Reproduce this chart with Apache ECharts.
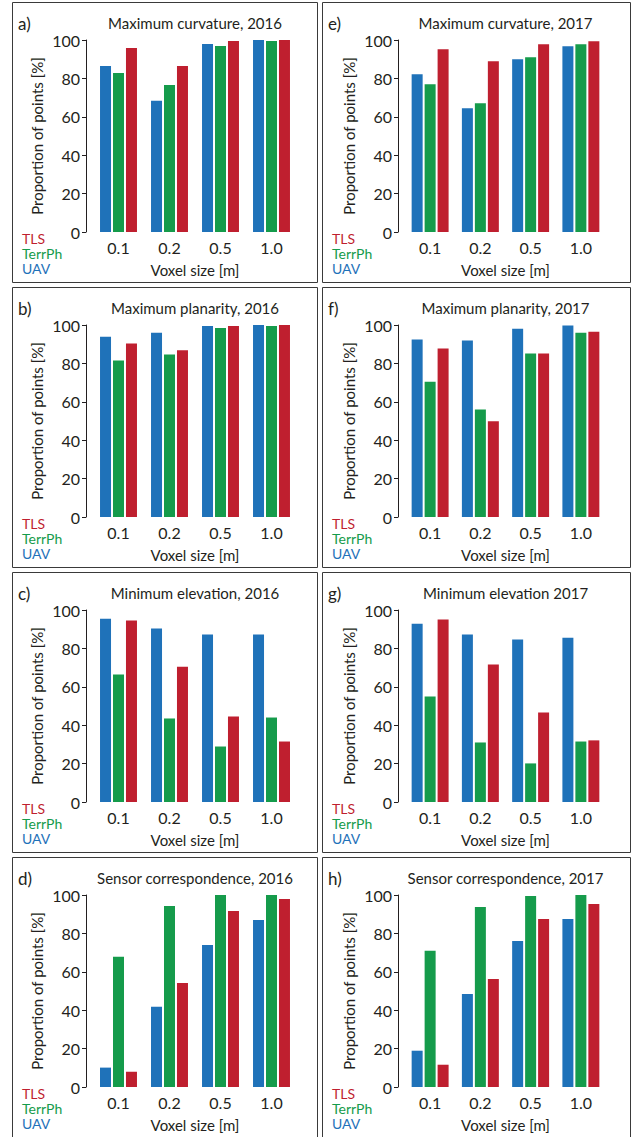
<!DOCTYPE html>
<html>
<head>
<meta charset="utf-8">
<script src="https://cdn.jsdelivr.net/npm/echarts@6/dist/echarts.min.js"></script>
<style>
html,body{margin:0;padding:0;background:#fff;}
#chart{width:635px;height:1137px;}
</style>
</head>
<body>
<div id="chart"></div>
<script>
// Categories (voxel size)
const voxelSizes = ['0.1', '0.2', '0.5', '1.0'];
const yTicks = [0, 20, 40, 60, 80, 100];
const sensors = ['UAV', 'TerrPh', 'TLS'];

// Panel titles and letters
const panelLetters = ['a)', 'b)', 'c)', 'd)', 'e)', 'f)', 'g)', 'h)'];
const panelTitles = [
  'Maximum curvature, 2016', 'Maximum planarity, 2016', 'Minimum elevation, 2016', 'Sensor correspondence, 2016',
  'Maximum curvature, 2017', 'Maximum planarity, 2017', 'Minimum elevation 2017', 'Sensor correspondence, 2017'
];

// a) Maximum curvature, 2016
const uavA = [86.5, 68.3, 97.9, 100];
const terrA = [82.8, 76.6, 96.9, 99.5];
const tlsA = [95.8, 86.5, 99.5, 100];
// b) Maximum planarity, 2016
const uavB = [93.9, 96.0, 99.5, 100];
const terrB = [81.5, 84.6, 98.4, 99.5];
const tlsB = [90.3, 86.8, 99.5, 100];
// c) Minimum elevation, 2016
const uavC = [95.5, 90.3, 87.2, 87.2];
const terrC = [66.4, 43.5, 28.9, 44.0];
const tlsC = [94.5, 70.5, 44.5, 31.5];
// d) Sensor correspondence, 2016
const uavD = [10.1, 41.8, 74.0, 87.0];
const terrD = [67.8, 94.3, 100, 100];
const tlsD = [8.0, 54.2, 91.7, 97.9];
// e) Maximum curvature, 2017
const uavE = [82.2, 64.4, 90.0, 96.7];
const terrE = [77.0, 67.1, 91.0, 97.8];
const tlsE = [95.2, 88.9, 97.8, 99.3];
// f) Maximum planarity, 2017
const uavF = [92.4, 91.9, 98.1, 99.7];
const terrF = [70.5, 56.0, 85.1, 96.0];
const tlsF = [87.7, 49.9, 85.1, 96.5];
// g) Minimum elevation 2017
const uavG = [92.9, 87.2, 84.6, 85.6];
const terrG = [54.9, 31.0, 20.1, 31.5];
const tlsG = [95.0, 71.6, 46.6, 32.1];
// h) Sensor correspondence, 2017
const uavH = [18.9, 48.5, 76.1, 87.5];
const terrH = [70.9, 93.8, 99.5, 100];
const tlsH = [11.6, 56.3, 87.5, 95.3];

const panelData = [
  [uavA, terrA, tlsA], [uavB, terrB, tlsB], [uavC, terrC, tlsC], [uavD, terrD, tlsD],
  [uavE, terrE, tlsE], [uavF, terrF, tlsF], [uavG, terrG, tlsG], [uavH, terrH, tlsH]
];

const COLORS = { UAV: '#1f72b9', TerrPh: '#159b4b', TLS: '#bf1f2f' };
const INK = '#231f20';
const FONT = 'Lato, "Open Sans", sans-serif';

// layout
const colFrameLeft = [12, 322];
const colFrameWidth = [305, 308];
const colPlotLeft = [93, 405];
const colPlotWidth = [204, 201];
const rowPlotTop = [40, 325, 610, 895];
const plotHeight = 192;

const grids = [], xAxes = [], yAxes = [], series = [], legends = [], graphics = [];

for (let p = 0; p < 8; p++) {
  const col = Math.floor(p / 4), row = p % 4;
  const top = rowPlotTop[row];
  const fl = colFrameLeft[col];
  const pl = colPlotLeft[col], pw = colPlotWidth[col];

  grids.push({ left: pl, top: top, width: pw, height: plotHeight, containLabel: false });

  xAxes.push({
    type: 'category', gridIndex: p, data: voxelSizes,
    axisLine: { show: false }, axisTick: { show: false },
    axisLabel: { color: INK, fontSize: 16, fontFamily: FONT, margin: 7 },
    name: 'Voxel size [m]', nameLocation: 'middle', nameGap: 30,
    nameTextStyle: { color: INK, fontSize: 15, fontFamily: FONT }
  });

  yAxes.push({
    type: 'value', gridIndex: p, min: 0, max: 100, interval: 20,
    offset: 7,
    axisLine: { show: true, lineStyle: { color: INK, width: 1 } },
    axisTick: { show: true, length: 4, inside: false, lineStyle: { color: INK, width: 1 } },
    splitLine: { show: false },
    axisLabel: { color: INK, fontSize: 16, fontFamily: FONT, margin: 6 },
    name: 'Proportion of points [%]', nameLocation: 'middle', nameGap: 42,
    nameTextStyle: { color: INK, fontSize: 15, fontFamily: FONT }
  });

  sensors.forEach((s, i) => {
    series.push({
      type: 'bar', name: s, xAxisIndex: p, yAxisIndex: p,
      data: panelData[p][i], barWidth: 11, barGap: '18%',
      itemStyle: { color: COLORS[s] }, animation: false, silent: true
    });
  });

  legends.push({
    orient: 'vertical', left: fl, top: top + 186, padding: 5,
    itemWidth: 0, itemHeight: 15, itemGap: 0, icon: 'rect', selectedMode: false,
    textStyle: { fontSize: 14, fontFamily: FONT, padding: 0, lineHeight: 15 },
    data: [
      { name: 'TLS', textStyle: { color: COLORS.TLS } },
      { name: 'TerrPh', textStyle: { color: COLORS.TerrPh } },
      { name: 'UAV', textStyle: { color: COLORS.UAV } }
    ]
  });

  // frame
  graphics.push({
    type: 'rect', silent: true,
    shape: { x: fl + 0.5, y: top - 37.5, width: colFrameWidth[col], height: 280 },
    style: { fill: 'none', stroke: '#3a3a3a', lineWidth: 1 }
  });
  // panel letter
  graphics.push({
    type: 'text', silent: true, x: fl + 6, y: top - 17,
    style: { text: panelLetters[p], fill: INK, font: '17px ' + FONT, textAlign: 'left', textVerticalAlign: 'middle' }
  });
  // panel title
  graphics.push({
    type: 'text', silent: true, x: pl + pw / 2, y: top - 17,
    style: { text: panelTitles[p], fill: INK, font: '15px ' + FONT, textAlign: 'center', textVerticalAlign: 'middle' }
  });
}

const chart = echarts.init(document.getElementById('chart'), null, { renderer: 'svg', width: 635, height: 1137 });
chart.setOption({
  backgroundColor: '#ffffff',
  animation: false,
  textStyle: { fontFamily: FONT },
  grid: grids, xAxis: xAxes, yAxis: yAxes, series: series,
  legend: legends, graphic: graphics, tooltip: { show: false }
});
</script>
</body>
</html>
